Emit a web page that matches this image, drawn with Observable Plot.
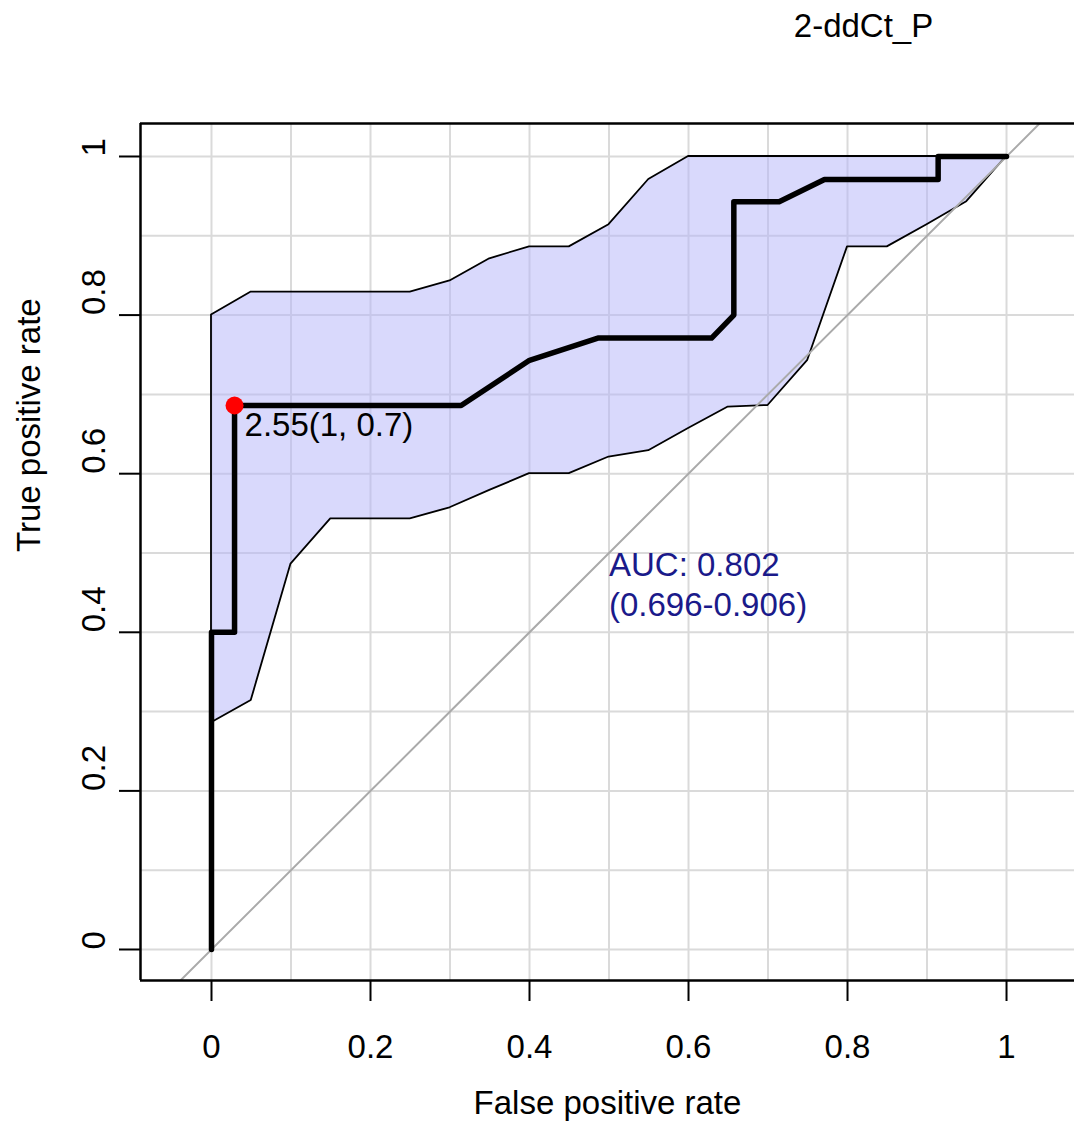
<!DOCTYPE html>
<html>
<head>
<meta charset="utf-8">
<script src="https://cdn.jsdelivr.net/npm/d3@7"></script>
<script src="https://cdn.jsdelivr.net/npm/@observablehq/plot@0.6"></script>
<style>
  html, body { margin: 0; padding: 0; background: white; }
</style>
</head>
<body>
<div id="chart"></div>
<script>
// ROC curve (false positive rate, true positive rate)
const rocFPR = [0, 0, 0.029, 0.029, 0.314, 0.4, 0.486, 0.629, 0.657, 0.657, 0.714, 0.771, 0.914, 0.914, 1];
const rocTPR = [0, 0.4, 0.4, 0.686, 0.686, 0.743, 0.771, 0.771, 0.8, 0.943, 0.943, 0.971, 0.971, 1, 1];

// Confidence band of sensitivity
const ciFPR   = [0, 0.05, 0.1, 0.15, 0.2, 0.25, 0.3, 0.35, 0.4, 0.45, 0.5, 0.55, 0.6, 0.65, 0.7, 0.75, 0.8, 0.85, 0.9, 0.95, 1];
const ciLower = [0.286, 0.314, 0.486, 0.543, 0.543, 0.543, 0.557, 0.579, 0.6, 0.6, 0.621, 0.629, 0.657, 0.684, 0.686, 0.743, 0.886, 0.886, 0.914, 0.943, 1];
const ciUpper = [0.8, 0.829, 0.829, 0.829, 0.829, 0.829, 0.843, 0.871, 0.886, 0.886, 0.914, 0.971, 1, 1, 1, 1, 1, 1, 1, 1, 1];

// Best threshold
const thresholdFPR = [0.029];
const thresholdTPR = [0.686];
const thresholdLabel = ["2.55(1, 0.7)"];

// Texts
const titleText = "2-ddCt_P";
const aucText = "AUC: 0.802\n(0.696-0.906)";
const xLabel = "False positive rate";
const yLabel = "True positive rate";

const axisTicks = [0, 0.2, 0.4, 0.6, 0.8, 1];
const gridTicks = [0, 0.1, 0.2, 0.3, 0.4, 0.5, 0.6, 0.7, 0.8, 0.9, 1];
const diagonal = [-0.2, 1.2];

const xDomain = [-0.0893, 1.0855];
const yDomain = [-0.0391, 1.0416];

const roc = rocFPR.map((x, i) => ({x, y: rocTPR[i]}));
const band = ciFPR.map((x, i) => ({x, lo: ciLower[i], hi: ciUpper[i]}));
const thr = thresholdFPR.map((x, i) => ({x, y: thresholdTPR[i], label: thresholdLabel[i]}));

const FS = 33;
const font = "'Liberation Sans', Arial, Helvetica, sans-serif";

const chart = Plot.plot({
  width: 1074,
  height: 1123,
  marginTop: 123,
  marginBottom: 143,
  marginLeft: 140,
  marginRight: 0,
  x: {domain: xDomain},
  y: {domain: yDomain},
  style: {fontFamily: font, background: "white", color: "black"},
  marks: [
    Plot.gridX({ticks: gridTicks, stroke: "#dadada", strokeOpacity: 1, strokeWidth: 2}),
    Plot.gridY({ticks: gridTicks, stroke: "#dadada", strokeOpacity: 1, strokeWidth: 2}),
    Plot.areaY(band, {x: "x", y1: "lo", y2: "hi", fill: "#b4b4fa", fillOpacity: 0.5, stroke: "black", strokeWidth: 1.8}),
    Plot.line(diagonal, {x: d => d, y: d => d, stroke: "#aaaaaa", strokeWidth: 2, clip: true}),
    Plot.line(roc, {x: "x", y: "y", stroke: "black", strokeWidth: 5.5}),
    Plot.dot(thr, {x: "x", y: "y", r: 9, fill: "#ff0000", stroke: null}),
    Plot.text(thr, {x: "x", y: "y", text: "label", textAnchor: "start", lineAnchor: "top", dx: 10, dy: 7, fontSize: FS, fill: "black"}),
    Plot.text([aucText], {x: 0.5, y: 0.5, textAnchor: "start", lineAnchor: "top", lineHeight: 1.2, fontSize: FS, fill: "#1a1a8a", dx: 0, dy: -5}),
    // frame (left, top, bottom)
    Plot.ruleX([xDomain[0]], {stroke: "black", strokeWidth: 2.5}),
    Plot.ruleY(yDomain, {stroke: "black", strokeWidth: 2.5}),
    // axes
    Plot.axisX({ticks: axisTicks, tickSize: 21, tickPadding: 33, fontSize: FS, tickFormat: d => String(d), label: null, strokeWidth: 2}),
    Plot.axisY({ticks: axisTicks, tickSize: 21, tickFormat: () => "", label: null, strokeWidth: 2}),
    Plot.text(axisTicks, {y: d => d, text: d => String(d), frameAnchor: "left", dx: -46, rotate: -90, fontSize: FS, fill: "black"}),
    Plot.text([xLabel], {frameAnchor: "bottom", dy: 133, fontSize: FS, fill: "black"}),
    Plot.text([yLabel], {frameAnchor: "left", dx: -111, rotate: -90, fontSize: FS, fill: "black"}),
    Plot.text([titleText], {frameAnchor: "top", dx: 256, dy: -110, lineAnchor: "top", fontSize: FS, fill: "black"})
  ]
});
document.getElementById("chart").appendChild(chart);
</script>
</body>
</html>
